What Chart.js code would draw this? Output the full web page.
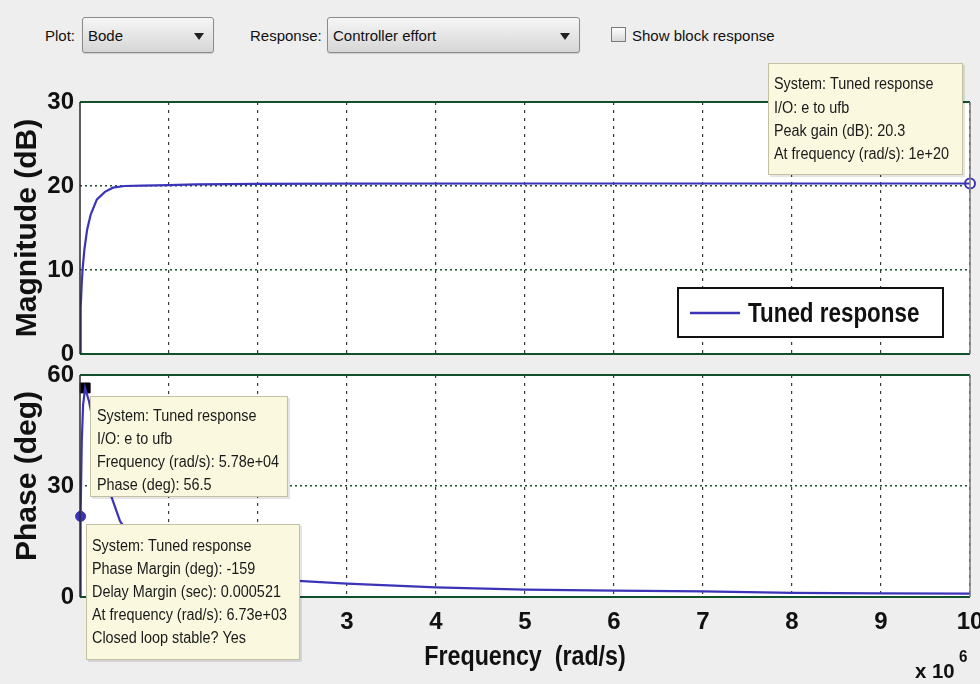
<!DOCTYPE html>
<html>
<head>
<meta charset="utf-8">
<title>Bode – Controller effort</title>
<script src="https://cdn.jsdelivr.net/npm/chart.js@4.4.1/dist/chart.umd.min.js"></script>
<style>
html,body{margin:0;padding:0;background:#eeeeee;width:980px;height:684px;overflow:hidden;font-family:"Liberation Sans",Arial,sans-serif;}
#wrap{position:relative;width:980px;height:684px;}
canvas{position:absolute;left:0;top:0;}
.lbl{position:absolute;font-size:15px;color:#111;white-space:nowrap;line-height:15px;}
.dd{position:absolute;border:1px solid #8a8a8a;border-radius:3px;background:linear-gradient(#f6f6f6,#d6d6d6);box-sizing:border-box;box-shadow:0 1px 1px rgba(0,0,0,0.15);}
.dd span{position:absolute;left:5px;top:10px;font-size:15px;line-height:15px;color:#111;}
.arrow{position:absolute;right:9px;top:15px;width:0;height:0;border-left:5px solid transparent;border-right:5px solid transparent;border-top:7px solid #222;}
.chk{position:absolute;width:13px;height:13px;border:1px solid #7a7a7a;background:linear-gradient(#fdfdfd,#d8d8d8);}
</style>
</head>
<body>
<div id="wrap">
  <div class="lbl" style="left:45px;top:28px;">Plot:</div>
  <div class="dd" style="left:82px;top:17px;width:132px;height:36px;"><span>Bode</span><div class="arrow"></div></div>
  <div class="lbl" style="left:250px;top:28px;">Response:</div>
  <div class="dd" style="left:327px;top:17px;width:253px;height:36px;"><span>Controller effort</span><div class="arrow"></div></div>
  <div class="chk" style="left:611px;top:27px;"></div>
  <div class="lbl" style="left:632px;top:28px;">Show block response</div>
  <canvas id="cTop" width="980" height="684"></canvas>
  <canvas id="cBot" width="980" height="684"></canvas>
</div>
<script>
// ---------------- data (frequency in rad/s) ----------------
const seriesName = 'Tuned response';
const magFreq  = [1e3, 5e3, 1e4, 2e4, 3e4, 5e4, 8e4, 1.2e5, 1.9e5, 2.8e5, 3.7e5, 5e5, 7e5, 1e6, 1.3e6, 2e6, 3e6, 5e6, 7e6, 1e7];
const magDb    = [0, 3, 5.5, 8.5, 10.2, 12.5, 14.8, 16.6, 18.4, 19.3, 19.8, 20.0, 20.05, 20.1, 20.2, 20.25, 20.28, 20.3, 20.3, 20.3];
const phaseFreq = [1e3, 6.73e3, 2e4, 3.5e4, 5.78e4, 1e5, 2e5, 3.4e5, 4.5e5, 6e5, 8e5, 1e6, 1.5e6, 2e6, 2.5e6, 3e6, 4e6, 5e6, 6e6, 7e6, 8e6, 9e6, 1e7];
const phaseDeg  = [0, 21.8, 42, 52, 56.5, 53, 41, 28, 20.5, 15.5, 12, 10, 6.8, 5.2, 4.3, 3.6, 2.6, 2.0, 1.7, 1.5, 1.1, 1.0, 0.9];
const peakPoint   = [1e7, 20.3];      // peak at 1e+20 rad/s, shown at the right edge of the axis
const phasePoint  = [5.78e4, 56.5];
const marginPoint = [6.73e3, 21.8];
const xTickVals   = [1e6, 2e6, 3e6, 4e6, 5e6, 6e6, 7e6, 8e6, 9e6, 1e7];
const magTicks    = [0, 10, 20, 30];
const phaseTicks  = [0, 30, 60];
const tipPeak  = ['System: Tuned response', 'I/O: e to ufb', 'Peak gain (dB): 20.3', 'At frequency (rad/s): 1e+20'];
const tipPhase = ['System: Tuned response', 'I/O: e to ufb', 'Frequency (rad/s): 5.78e+04', 'Phase (deg): 56.5'];
const tipMargin = ['System: Tuned response', 'Phase Margin (deg): -159', 'Delay Margin (sec): 0.000521', 'At frequency (rad/s): 6.73e+03', 'Closed loop stable? Yes'];

// ---------------- styling ----------------
const LINE = '#3b34b8';
const FONT = "'Liberation Sans', Arial, sans-serif";
Chart.defaults.font.family = FONT;

function pts(xs, ys){ return xs.map((x,i)=>({x:x, y:ys[i]})); }

function txt(ctx, s, x, y, font, sx, align, baseline, color){
  ctx.save();
  ctx.font = font; ctx.fillStyle = color || '#111';
  ctx.textAlign = align || 'left'; ctx.textBaseline = baseline || 'middle';
  ctx.translate(x, y); ctx.scale(sx, 1);
  ctx.fillText(s, 0, 0);
  ctx.restore();
}
function tipBox(ctx, x, y, w, h, lines, tx, firstY, dy){
  ctx.save();
  ctx.fillStyle = 'rgba(0,0,0,0.10)';
  ctx.fillRect(x+2, y+2, w, h);
  ctx.fillStyle = '#faf8df';
  ctx.fillRect(x, y, w, h);
  ctx.strokeStyle = '#c4c1a2'; ctx.lineWidth = 1;
  ctx.strokeRect(x+0.5, y+0.5, w-1, h-1);
  ctx.restore();
  lines.forEach((l,i)=> txt(ctx, l, tx, firstY + i*dy, '16px ' + FONT, 0.9, 'left', 'middle', '#1a1a1a'));
}
function frame(ctx, a){
  ctx.save();
  ctx.lineWidth = 2; ctx.strokeStyle = '#11502b';
  ctx.beginPath(); ctx.moveTo(a.left, a.top); ctx.lineTo(a.right, a.top);
  ctx.moveTo(a.left, a.bottom); ctx.lineTo(a.right, a.bottom); ctx.stroke();
  ctx.lineWidth = 1.5; ctx.strokeStyle = '#2a2a2a';
  ctx.beginPath(); ctx.moveTo(a.left, a.top); ctx.lineTo(a.left, a.bottom); ctx.stroke();
  ctx.strokeStyle = '#7a7a7a';
  ctx.beginPath(); ctx.moveTo(a.right, a.top); ctx.lineTo(a.right, a.bottom); ctx.stroke();
  ctx.restore();
}

const bgPlugin = { id:'bg', beforeDraw(chart){ const a = chart.chartArea, c = chart.ctx; c.save(); c.fillStyle = '#ffffff'; c.fillRect(a.left, a.top, a.right-a.left, a.bottom-a.top); c.restore(); } };

function xScale(showLabels){
  return {
    type:'linear', min:0, max:1e7,
    afterBuildTicks(s){ s.ticks = xTickVals.map(v=>({value:v})); },
    afterFit(s){ s.height = showLabels ? 60 : 0; s.paddingLeft = 0; s.paddingRight = 0; },
    ticks:{ display:showLabels, autoSkip:false, maxRotation:0, padding:11, color:'#111',
            font:{size:24, weight:'bold', family:FONT}, callback:v=>String(v/1e6) },
    grid:{ color:'#3a3a3a', lineWidth:1.2, drawTicks:false },
    border:{ display:false, dash:[3,5] }
  };
}
function yScale(min, max, ticksArr){
  return {
    min:min, max:max,
    afterBuildTicks(s){ s.ticks = ticksArr.map(v=>({value:v})); },
    afterFit(s){ s.width = 80; s.paddingTop = 0; s.paddingBottom = 0; },
    ticks:{ padding:6, color:'#111', font:{size:24, weight:'bold', family:FONT} },
    grid:{ color:'#1b4f2d', lineWidth:1.5, drawTicks:false },
    border:{ display:false, dash:[2,3] }
  };
}

// ---------------- magnitude chart ----------------
new Chart(document.getElementById('cTop'), {
  type:'scatter',
  data:{ datasets:[
    { label:seriesName, data:pts(magFreq, magDb), showLine:true, borderColor:LINE, borderWidth:2.2, pointRadius:0, tension:0 },
    { label:'peak', data:[{x:peakPoint[0], y:peakPoint[1]}], showLine:false, pointRadius:5, pointBackgroundColor:'#ffffff', pointBorderColor:LINE, pointBorderWidth:2, clip:false }
  ]},
  options:{
    responsive:false, animation:false, events:[],
    layout:{ padding:{ left:0, right:10, top:102, bottom:330 } },
    plugins:{ legend:{display:false}, tooltip:{enabled:false} },
    scales:{ x:xScale(false), y:yScale(0, 30, magTicks) }
  },
  plugins:[bgPlugin, { id:'decorTop', afterDraw(chart){
    const c = chart.ctx, a = chart.chartArea;
    frame(c, a);
    // legend
    c.save();
    c.fillStyle = '#ffffff'; c.fillRect(678, 288, 265, 49);
    c.strokeStyle = '#111'; c.lineWidth = 2; c.strokeRect(678, 288, 265, 49);
    c.strokeStyle = LINE; c.lineWidth = 2.5;
    c.beginPath(); c.moveTo(690, 313); c.lineTo(740, 313); c.stroke();
    c.restore();
    txt(c, chart.data.datasets[0].label, 748, 314, 'bold 28px ' + FONT, 0.8, 'left', 'middle', '#111');
    // y title
    c.save(); c.translate(28, 228); c.rotate(-Math.PI/2);
    txt(c, 'Magnitude (dB)', 0, 0, 'bold 30px ' + FONT, 1, 'center', 'middle', '#111');
    c.restore();
    // data tip
    tipBox(c, 768, 63, 195, 112, tipPeak, 774, 85, 23.3);
  }}]
});

// ---------------- phase chart ----------------
new Chart(document.getElementById('cBot'), {
  type:'scatter',
  data:{ datasets:[
    { label:seriesName, data:pts(phaseFreq, phaseDeg), showLine:true, borderColor:LINE, borderWidth:2.2, pointRadius:0, tension:0 },
    { label:'phase', data:[{x:phasePoint[0], y:phasePoint[1]}], showLine:false, pointStyle:'rect', pointRadius:7, pointBackgroundColor:'#000000', pointBorderColor:'#000000', pointBorderWidth:1, clip:false },
    { label:'margin', data:[{x:marginPoint[0], y:marginPoint[1]}], showLine:false, pointRadius:5, pointBackgroundColor:LINE, pointBorderColor:LINE, pointBorderWidth:1, clip:false }
  ]},
  options:{
    responsive:false, animation:false, events:[],
    layout:{ padding:{ left:0, right:10, top:375, bottom:27 } },
    plugins:{ legend:{display:false}, tooltip:{enabled:false} },
    scales:{ x:xScale(true), y:yScale(0, 60, phaseTicks) }
  },
  plugins:[bgPlugin, { id:'decorBot', afterDraw(chart){
    const c = chart.ctx, a = chart.chartArea;
    frame(c, a);
    c.save(); c.translate(28, 476); c.rotate(-Math.PI/2);
    txt(c, 'Phase (deg)', 0, 0, 'bold 30px ' + FONT, 1, 'center', 'middle', '#111');
    c.restore();
    txt(c, 'Frequency  (rad/s)', (a.left + a.right)/2, 665, 'bold 28px ' + FONT, 0.83, 'center', 'alphabetic', '#111');
    txt(c, 'x 10', 915, 678, 'bold 21px ' + FONT, 0.97, 'left', 'alphabetic', '#111');
    txt(c, '6', 959, 662, 'bold 16px ' + FONT, 0.95, 'left', 'alphabetic', '#111');
    tipBox(c, 90, 396, 198, 101, tipPhase, 97, 417, 23);
    tipBox(c, 86, 524, 214, 136, tipMargin, 92, 547, 23);
  }}]
});
</script>
</body>
</html>
